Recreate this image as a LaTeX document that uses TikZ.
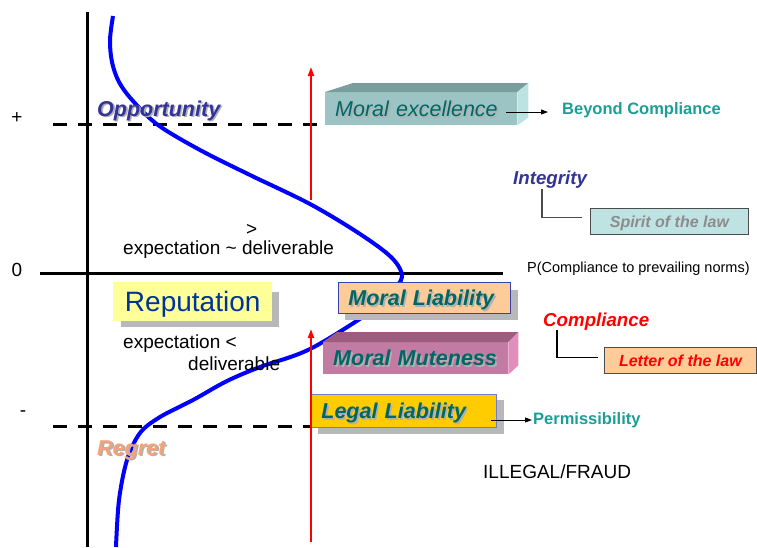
\documentclass[tikz,border=0pt]{standalone}
\usepackage{fontspec}
\setmainfont{Liberation Sans}
\usetikzlibrary{arrows.meta}
\definecolor{mefront}{HTML}{9CC4C4}
\definecolor{metop}{HTML}{7A9E9E}
\definecolor{meside}{HTML}{BCE2E2}
\definecolor{mmfront}{HTML}{C27BA3}
\definecolor{mmtop}{HTML}{9C5C80}
\definecolor{mmside}{HTML}{E28EBC}
\definecolor{peach}{HTML}{FFCC99}
\definecolor{gold}{HTML}{FFCC00}
\definecolor{boxblue}{HTML}{3344AA}
\definecolor{shadowgray}{HTML}{B8B8B8}
\definecolor{txtshadow}{HTML}{B0B0B0}
\definecolor{tealtxt}{HTML}{006666}
\definecolor{tealbright}{HTML}{1A9E96}
\definecolor{navytxt}{HTML}{333399}
\definecolor{regret}{HTML}{F4A27A}
\definecolor{spiritfill}{HTML}{BFE3E3}
\definecolor{reptxt}{HTML}{003399}
\definecolor{repfill}{HTML}{FFFF99}
\newcommand\shtxt[1]{\leavevmode\rlap{\hspace{1.6pt}\raisebox{-1.6pt}{\color{txtshadow}#1}}#1}
\begin{document}
\begin{tikzpicture}[x=1pt,y=-1pt,
  lbl/.style={inner sep=0pt, anchor=base west},
  bi/.style={lbl, font=\fontsize{21.5}{25}\selectfont\bfseries\itshape},
  boxlbl/.style={inner ysep=0pt, inner xsep=10pt, anchor=north west, align=left,
     text height=15.4pt, text depth=0pt, font=\fontsize{21.5}{25}\selectfont\bfseries\itshape, text=tealtxt},
  smallbox/.style={draw=black!70, line width=0.8pt, inner sep=0pt, anchor=north west, align=center,
     text height=11.5pt, text depth=0pt, font=\fontsize{16}{19}\selectfont\bfseries\itshape},
  axis/.style={line width=3pt, black},
  dash line/.style={line width=3pt, black, dash pattern=on 14pt off 11pt},
  redarrow/.style={line width=2pt, red, -{Triangle[length=9pt,width=6pt]}},
  blkarrow/.style={line width=1pt, black, -{Triangle[length=7pt,width=5pt]}},
  conn/.style={line width=1.1pt},
]
\useasboundingbox (0,0) rectangle (757,547);
% axes
\coordinate (vtop) at (87,12);
\coordinate (vbot) at (87,547);
\coordinate (hl) at (40,273);
\coordinate (hr) at (503,273);
\draw[axis] (vtop) -- (vbot);
\draw[axis] (hl) -- (hr);
\coordinate (d1a) at (53,124);
\coordinate (d1b) at (322,124);
\coordinate (d2a) at (53,426);
\coordinate (d2b) at (310,426);
\draw[dash line] (d1a) -- (d1b);
\draw[dash line] (d2a) -- (d2b);
% axis labels
\node[font=\fontsize{19}{22}\selectfont] (plus) at (17,118) {+};
\node[font=\fontsize{19}{22}\selectfont] (zero) at (17,270) {0};
\node[font=\fontsize{19}{22}\selectfont] (minus) at (23,414) {-};
% curve
\draw[line width=4pt, blue] plot[smooth, tension=0.55] coordinates {
 (113,16) (110,40) (112,62) (119,82) (133,101) (158,125) (200,150) (250,175) (310,204) (360,234)
 (392,258) (402,277) (390,293) (370,312) (310,349) (260,367) (227,381) (193,400)
 (160,417) (140,433) (127,460) (119,500) (116,547)};
% shadows
\fill[shadowgray] (121,292) rectangle (279,327);
\fill[shadowgray] (345,290) rectangle (518,320);
\fill[shadowgray] (318,400) rectangle (504,434);
% Moral excellence (3D)
\node[boxlbl, font=\fontsize{21.5}{25}\selectfont\itshape, fill=mefront, minimum width=192pt, minimum height=33pt, text width=172pt] (mexc) at (325,92) {\shtxt{Moral excellence}};
\fill[metop] (mexc.north west) -- ++(28,-9) -- ([shift={(11pt,9pt)}]mexc.north east) -- (mexc.north east) -- cycle;
\fill[meside] (mexc.north east) -- ++(11,-9) -- ([shift={(11pt,8pt)}]mexc.south east) -- (mexc.south east) -- cycle;
% Moral Muteness (3D)
\node[boxlbl, fill=mmfront, minimum width=185pt, minimum height=32pt, text width=165pt] (mmut) at (323,342) {\shtxt{Moral Muteness}};
\fill[mmtop] (mmut.north west) -- ++(14,-10) -- ([shift={(10pt,10pt)}]mmut.north east) -- (mmut.north east) -- cycle;
\fill[mmside] (mmut.north east) -- ++(10,-10) -- ([shift={(10pt,9pt)}]mmut.south east) -- (mmut.south east) -- cycle;
% Moral Liability
\node[boxlbl, fill=peach, draw=boxblue, line width=0.8pt, minimum width=172pt, minimum height=31pt, text width=152pt] (mlia) at (338,282) {\shtxt{Moral Liability}};
% Legal Liability
\node[boxlbl, fill=gold, draw=boxblue!70, line width=0.8pt, minimum width=185pt, minimum height=33pt, text width=165pt] (llia) at (311,394) {\shtxt{Legal Liability}};
% Reputation
\node[fill=repfill, inner sep=0pt, anchor=north west, minimum width=159pt, minimum height=39pt,
  text height=20pt, text depth=0pt, font=\fontsize{28}{32}\selectfont, text=reptxt] (rep) at (113,282) {Reputation};
% right boxes
\node[smallbox, fill=spiritfill, minimum width=158pt, minimum height=26pt, text=black!45] (spirit) at (590,208) {Spirit of the law};
\node[smallbox, fill=peach, minimum width=152pt, minimum height=26pt, text=red] (letter) at (604,347) {Letter of the law};
% labels
\node[bi, text=navytxt] (opp) at (97,116) {\shtxt{Opportunity}};
\node[bi, text=regret] (reg) at (97,455) {\shtxt{Regret}};
\node[lbl, font=\fontsize{18.7}{22}\selectfont\bfseries\itshape, text=navytxt] (int) at (513,184) {Integrity};
\node[lbl, font=\fontsize{18.7}{22}\selectfont\bfseries\itshape, text=red] (comp) at (543,326) {Compliance};
\node[lbl, font=\fontsize{16.5}{19}\selectfont\bfseries, text=tealbright] (beyond) at (562,114) {Beyond Compliance};
\node[lbl, font=\fontsize{16.5}{19}\selectfont\bfseries, text=tealbright] (perm) at (533,424) {Permissibility};
\node[lbl, font=\fontsize{14.5}{17}\selectfont] (pnorm) at (527,272) {P(Compliance to prevailing norms)};
\node[lbl, font=\fontsize{19}{22}\selectfont] (fraud) at (483,478) {ILLEGAL/FRAUD};
\node[lbl, font=\fontsize{19}{22}\selectfont] (gt) at (246,235) {>};
\node[lbl, font=\fontsize{19}{22}\selectfont] (expapprox) at (123,254) {expectation \textasciitilde{} deliverable};
\node[lbl, font=\fontsize{19}{22}\selectfont] (explt) at (123,348) {expectation <};
\node[lbl, font=\fontsize{19}{22}\selectfont] (deliv) at (188,370) {deliverable};
% connectors
\draw[conn, black!70] (int.south west) ++(29,1) |- ([xshift=-8pt,yshift=4pt]spirit.west);
\draw[conn, black] (comp.south west) ++(14,0) |- ([xshift=-6pt,yshift=3pt]letter.west);
\coordinate (mexcout) at (506,112);
\draw[blkarrow] (mexcout) -- ([xshift=-14pt]beyond.west |- mexcout);
\coordinate (lliaout) at (491,420);
\draw[blkarrow] (lliaout) -- ([xshift=-1pt]perm.west |- lliaout);
% red arrows
\coordinate (r1s) at (311,200);
\coordinate (r1e) at (311,67);
\coordinate (r2s) at (311,542);
\coordinate (r2e) at (311,329);
\draw[redarrow] (r1s) -- (r1e);
\draw[redarrow] (r2s) -- (r2e);
\end{tikzpicture}
\end{document}
